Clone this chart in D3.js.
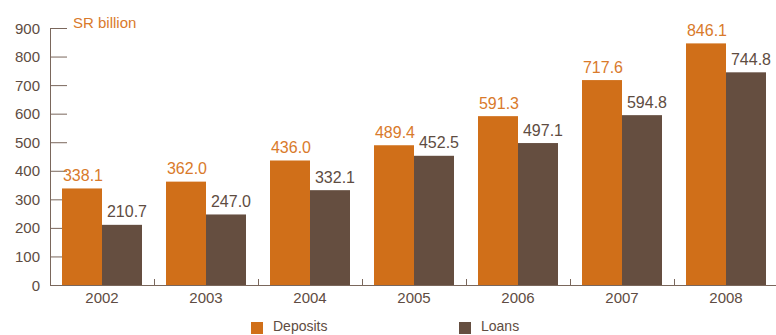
<!DOCTYPE html>
<html><head><meta charset="utf-8">
<script src="https://cdn.jsdelivr.net/npm/d3@7"></script>
<style>body{margin:0;background:#fff}svg{display:block;font-family:"Liberation Sans",Arial,sans-serif}</style>
</head><body><svg id="c" width="776" height="335"></svg>
<script>
const years = ["2002","2003","2004","2005","2006","2007","2008"];
const deposits = [338.1,362.0,436.0,489.4,591.3,717.6,846.1];
const loans = [210.7,247.0,332.1,452.5,497.1,594.8,744.8];
const yTicks = [0,100,200,300,400,500,600,700,800,900];
const seriesNames = ["Deposits","Loans"];
const colors = ["#d06f19","#654e40"];
const labelColors = ["#d97a2b","#5e4c42"];
const axisColor = "#7a675c";
const textColor = "#5e4c42";

const svg = d3.select("#c");
const x0 = d3.scaleBand().domain(years).range([50,778]).paddingInner(0).paddingOuter(0);
const x1 = d3.scaleBand().domain(seriesNames).range([12, x0.bandwidth()-12]);
const y = d3.scaleLinear().domain([0,900]).range([285,28]);

// y axis
const ya = svg.append("g").attr("transform","translate(50,0)")
  .call(d3.axisRight(y).tickValues(yTicks).tickSize(17).tickFormat(""));
ya.selectAll("path,line").attr("stroke",axisColor).attr("stroke-width",1);
ya.select(".domain").attr("d","M0.5,28V285.5");
svg.append("g").selectAll("text").data(yTicks).join("text")
  .attr("x",40).attr("y",d=>y(d)+5.5).attr("text-anchor","end")
  .attr("font-size",15).attr("fill",textColor).text(d=>d);

// bars
const groups = svg.append("g").selectAll("g").data(years).join("g")
  .attr("transform",d=>`translate(${x0(d)},0)`);
const vals = [deposits, loans];
groups.selectAll("rect").data((d,i)=>seriesNames.map((s,k)=>({s,k,v:vals[k][i]}))).join("rect")
  .attr("x",d=>x1(d.s)).attr("width",x1.bandwidth())
  .attr("y",d=>y(d.v)).attr("height",d=>y(0)-y(d.v))
  .attr("fill",d=>colors[d.k]);
groups.selectAll("text").data((d,i)=>seriesNames.map((s,k)=>({s,k,v:vals[k][i]}))).join("text")
  .attr("x",d=>x1(d.s)+x1.bandwidth()/2+(d.k===1?5:1))
  .attr("y",d=>y(d.v)-7.5).attr("text-anchor","middle")
  .attr("font-size",16).attr("fill",d=>labelColors[d.k]).text(d=>d.v.toFixed(1));

// x axis
const xa = svg.append("g").attr("transform","translate(0,285)");
xa.append("line").attr("x1",50).attr("x2",778).attr("y1",0.5).attr("y2",0.5).attr("stroke",axisColor);
xa.selectAll("line.t").data(years.slice(1)).join("line").attr("class","t")
  .attr("x1",d=>Math.round(x0(d))+0.5).attr("x2",d=>Math.round(x0(d))+0.5)
  .attr("y1",0).attr("y2",-6).attr("stroke",axisColor);
xa.selectAll("text").data(years).join("text")
  .attr("x",d=>x0(d)+x0.bandwidth()/2).attr("y",18).attr("text-anchor","middle")
  .attr("font-size",15).attr("fill",textColor).text(d=>d);

// unit label
svg.append("text").attr("x",73).attr("y",28).attr("font-size",15).attr("fill","#d97a2b").text("SR billion");

// legend
const legX = [251,459];
const lg = svg.append("g").selectAll("g").data(seriesNames).join("g")
  .attr("transform",(d,i)=>`translate(${legX[i]},322)`);
lg.append("rect").attr("width",12).attr("height",12).attr("fill",(d,i)=>colors[i]);
lg.append("text").attr("x",22).attr("y",9).attr("font-size",14).attr("fill",textColor).text(d=>d);
</script></body></html>
